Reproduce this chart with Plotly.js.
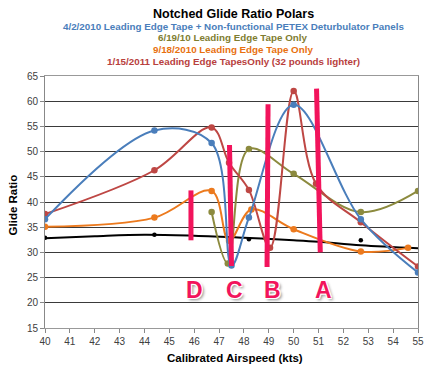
<!DOCTYPE html>
<html>
<head>
<meta charset="utf-8">
<script src="https://cdn.plot.ly/plotly-3.0.1.min.js"></script>
<style>html,body{margin:0;padding:0;background:#fff;}</style>
</head>
<body>
<div id="chart" style="width:436px;height:370px;"></div>
<script>
// ---- data ----
const blueX   = [40, 44.4, 46.7, 47.5, 48.2, 50, 52.7, 55];
const blueY   = [36.6, 54.2, 51.7, 27.4, 36.9, 59.3, 36.6, 26.0];

const oliveX  = [46.7, 47.35, 48.2, 50, 52.7, 55];
const oliveY  = [38.0, 27.8, 50.5, 45.6, 38.0, 42.2];

const orangeX = [40, 44.4, 46.7, 47.4, 48.3, 50, 52.7, 54.6];
const orangeY = [35.1, 36.9, 42.2, 32.3, 38.5, 34.6, 30.2, 30.9];

const redX    = [40, 44.4, 46.7, 47.4, 48.2, 49.05, 50, 50.9, 52.7, 55];
const redY    = [37.6, 46.3, 54.8, 47.8, 42.4, 30.9, 62.0, 43.6, 36.0, 27.2];

const blackX  = [40, 44.4, 48.2, 52.7];
const blackY  = [32.9, 33.5, 32.6, 32.4];

const trendX  = [40, 42, 44, 46, 48, 50, 51, 52.7, 55];
const trendY  = [32.8, 33.2, 33.5, 33.3, 32.9, 32.4, 32.1, 31.4, 30.8];

// pink notch bars: [x top, y top, x bottom, y bottom]
const barLabels = ["D", "C", "B", "A"];
const barTopX   = [45.87, 47.42, 48.97, 50.92];
const barTopY   = [42.3, 51.3, 59.4, 62.5];
const barBotX   = [45.87, 47.5, 48.93, 51.07];
const barBotY   = [32.4, 27.3, 27.1, 30.0];
const letterX   = [46.02, 47.62, 49.13, 51.2];
const letterY   = [22.5, 22.5, 22.5, 22.5];

const titleLines = [
  "Notched Glide Ratio Polars",
  "4/2/2010 Leading Edge Tape + Non-functional PETEX Deturbulator Panels",
  "6/19/10 Leading Edge Tape Only",
  "9/18/2010 Leading Edge Tape Only",
  "1/15/2011 Leading Edge TapesOnly (32 pounds lighter)"
];
const xTicks = [40,41,42,43,44,45,46,47,48,49,50,51,52,53,54,55];
const yTicks = [15,20,25,30,35,40,45,50,55,60,65];

// ---- styling ----
const C_BLUE = "#4a7ebb", C_OLIVE = "#8c8a3e", C_ORANGE = "#ec7a1e", C_RED = "#be4744", PINK = "#f2145c";
const FONT = "Liberation Sans, Arial, sans-serif";

function series(x, y, color) {
  return {x: x, y: y, type: "scatter", mode: "lines+markers",
    line: {color: color, width: 2, shape: "spline", smoothing: 1},
    marker: {color: color, size: 6.5}, hoverinfo: "skip"};
}

const traces = [
  {x: trendX, y: trendY, type: "scatter", mode: "lines",
    line: {color: "#000", width: 2, shape: "spline", smoothing: 1}, hoverinfo: "skip"},
  {x: blackX, y: blackY, type: "scatter", mode: "markers",
    marker: {color: "#000", size: 4.5}, hoverinfo: "skip"},
  series(orangeX, orangeY, C_ORANGE),
  series(oliveX, oliveY, C_OLIVE),
  series(redX, redY, C_RED),
  series(blueX, blueY, C_BLUE)
];

const shapes = barLabels.map((l, i) => ({
  type: "line", xref: "x", yref: "y",
  x0: barTopX[i], y0: barTopY[i], x1: barBotX[i], y1: barBotY[i],
  line: {color: PINK, width: 5}, layer: "above"
}));

const titleColors = ["#000", C_BLUE, "#7f7d30", "#e8700f", "#b8403d"];
const titleY = [1.246, 1.1956, 1.152, 1.106, 1.057];
const titleSize = [12.5, 9.8, 9.8, 9.8, 9.8];

const annotations = [];
titleLines.forEach((t, i) => annotations.push({
  text: "<b>" + t + "</b>", xref: "paper", yref: "paper", x: 0.505, y: titleY[i],
  xanchor: "center", yanchor: "middle", showarrow: false,
  font: {family: FONT, size: titleSize[i], color: titleColors[i]}
}));
barLabels.forEach((l, i) => annotations.push({
  text: "<b>" + l + "</b>", xref: "x", yref: "y", x: letterX[i], y: letterY[i],
  xanchor: "center", yanchor: "middle", showarrow: false,
  font: {family: FONT, size: 23, color: PINK,
    shadow: "1px 1px 0 #fff, -1px -1px 0 #fff, 1px -1px 0 #fff, -1px 1px 0 #fff, 2px 2px 3px #888"}
}));
annotations.push({
  text: "<b>Glide Ratio</b>", xref: "paper", yref: "paper", x: -0.086, y: 0.49,
  xanchor: "center", yanchor: "middle", textangle: -90, showarrow: false,
  font: {family: FONT, size: 11.5, color: "#000"}
});
annotations.push({
  text: "<b>Calibrated Airspeed (kts)</b>", xref: "paper", yref: "paper", x: 0.51, y: -0.119,
  xanchor: "center", yanchor: "middle", showarrow: false,
  font: {family: FONT, size: 11.5, color: "#000"}
});

const layout = {
  width: 436, height: 370,
  margin: {l: 45, r: 18, t: 76, b: 42, pad: 0},
  paper_bgcolor: "#fff", plot_bgcolor: "#fff",
  showlegend: false,
  font: {family: FONT, size: 10, color: "#404040"},
  xaxis: {range: [40, 55], tickvals: xTicks, ticktext: xTicks.map(String),
    showgrid: false, zeroline: false, showline: true, linecolor: "#999", linewidth: 1,
    mirror: true, ticks: "outside", ticklen: 4, tickcolor: "#888",
    tickfont: {family: FONT, size: 10, color: "#404040"}},
  yaxis: {range: [15, 65], tickvals: yTicks, ticktext: yTicks.map(String),
    showgrid: true, gridcolor: "#3a3a3a", gridwidth: 1, zeroline: false,
    showline: true, linecolor: "#888", linewidth: 1, mirror: true,
    ticks: "outside", ticklen: 4, tickcolor: "#888",
    tickfont: {family: FONT, size: 10, color: "#404040"}},
  shapes: shapes,
  annotations: annotations
};

Plotly.newPlot("chart", traces, layout, {staticPlot: true, displayModeBar: false});
</script>
</body>
</html>
